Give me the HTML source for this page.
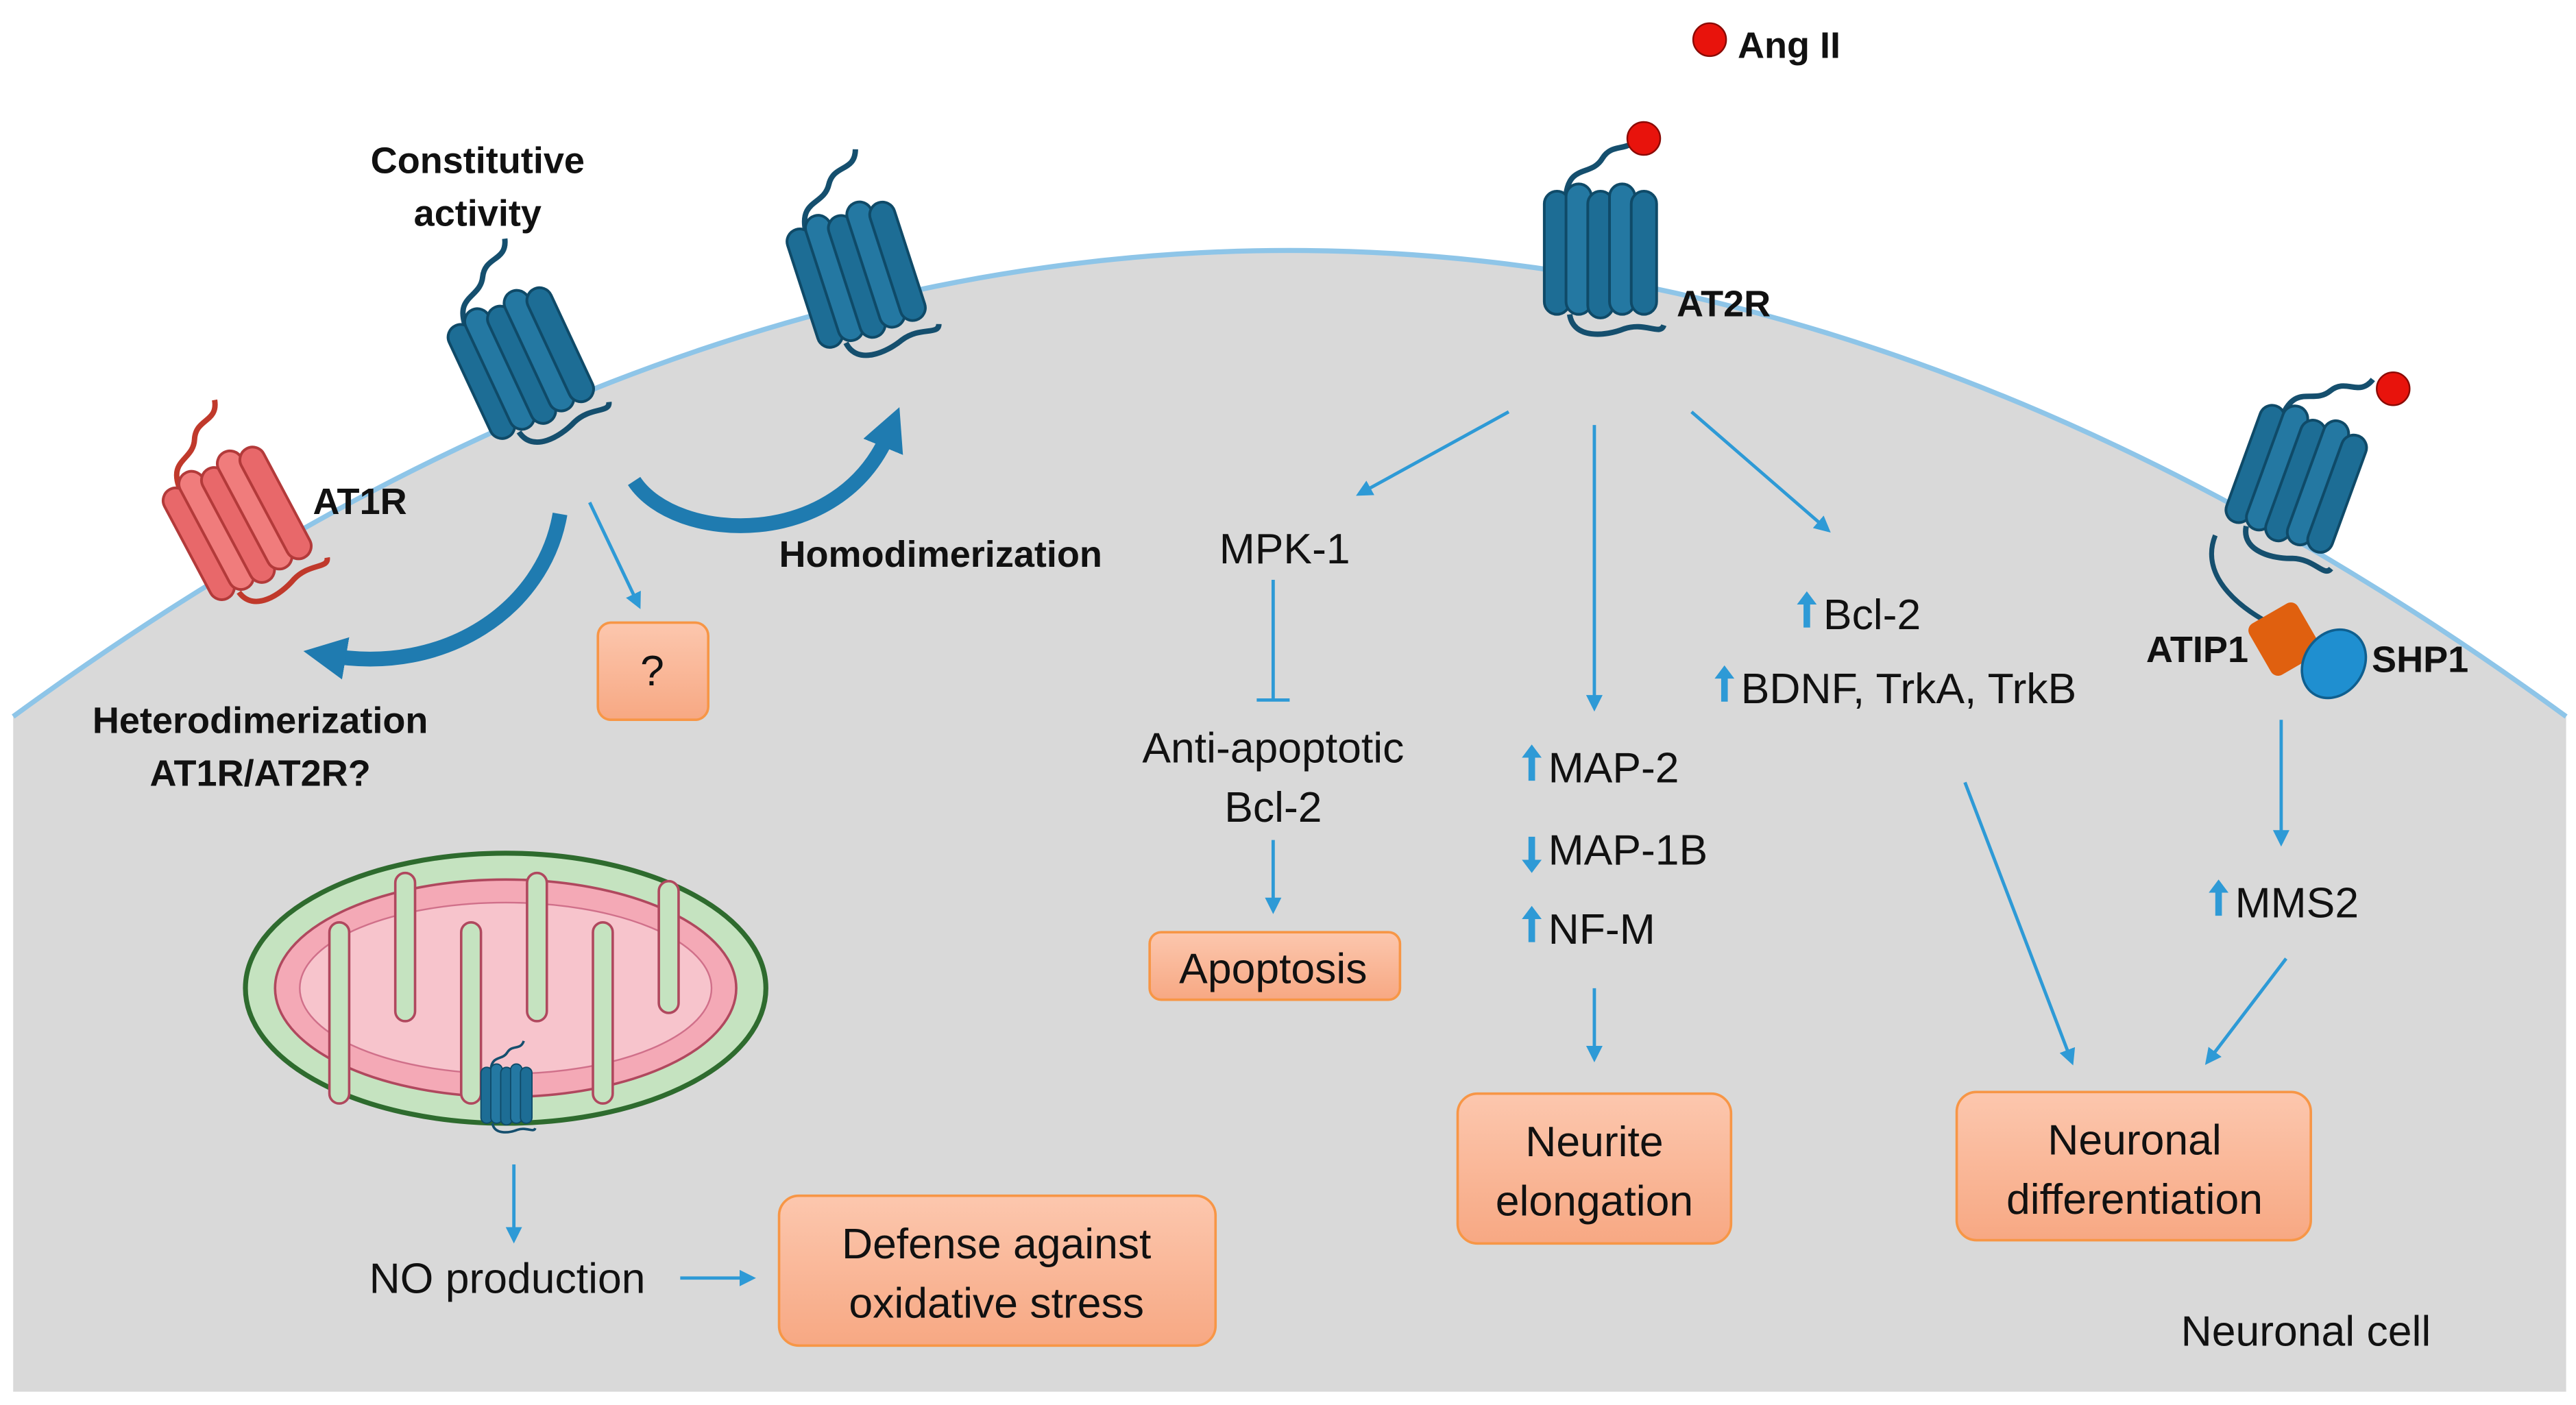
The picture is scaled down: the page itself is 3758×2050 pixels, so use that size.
<!DOCTYPE html>
<html><head><meta charset="utf-8"><style>
html,body{margin:0;padding:0;background:#fff}
svg{display:block}
text{font-family:"Liberation Sans",sans-serif;fill:#111}
.b{font-weight:bold;font-size:22.5px}
.r{font-size:26px}
</style></head><body>
<svg width="3758" height="2050" viewBox="0 0 1564 853" xmlns="http://www.w3.org/2000/svg">
<defs>
<marker id="ah" markerWidth="10" markerHeight="10" refX="8" refY="5" orient="auto" markerUnits="userSpaceOnUse"><path d="M0,0 L10,5 L0,10 Z" fill="#2e9ad6"/></marker>
<marker id="ahb" markerWidth="26" markerHeight="26" refX="10" refY="13" orient="auto" markerUnits="userSpaceOnUse"><path d="M0,0 L26,13 L0,26 Z" fill="#1f7bb0"/></marker>
<linearGradient id="bx" x1="0" y1="0" x2="0" y2="1"><stop offset="0" stop-color="#fcc7ae"/><stop offset="1" stop-color="#f7a883"/></linearGradient>
<g id="rec">
 <path d="M-22,-38 C-20,-55 -8,-48 -2,-58 C4,-68 14,-60 18,-72" fill="none" stroke="#154f6e" stroke-width="3"/>
 <rect x="-34" y="-40" width="14" height="68" rx="7" fill="#1d6d95" stroke="#0f4a68" stroke-width="1.5"/>
 <rect x="-22" y="-44" width="14" height="72" rx="7" fill="#2478a2" stroke="#0f4a68" stroke-width="1.5"/>
 <rect x="-10" y="-40" width="14" height="70" rx="7" fill="#1d6d95" stroke="#0f4a68" stroke-width="1.5"/>
 <rect x="2" y="-44" width="14" height="72" rx="7" fill="#2478a2" stroke="#0f4a68" stroke-width="1.5"/>
 <rect x="14" y="-40" width="14" height="68" rx="7" fill="#1d6d95" stroke="#0f4a68" stroke-width="1.5"/>
 <path d="M-20,28 C-18,42 0,40 10,36 C22,32 30,40 32,34" fill="none" stroke="#154f6e" stroke-width="3"/>
</g>
<g id="rec1">
 <path d="M-22,-38 C-20,-55 -8,-48 -2,-58 C4,-68 14,-60 18,-72" fill="none" stroke="#c0392b" stroke-width="3"/>
 <rect x="-34" y="-40" width="14" height="68" rx="7" fill="#e8686a" stroke="#b33a3a" stroke-width="1.5"/>
 <rect x="-22" y="-44" width="14" height="72" rx="7" fill="#f07c7c" stroke="#b33a3a" stroke-width="1.5"/>
 <rect x="-10" y="-40" width="14" height="70" rx="7" fill="#e8686a" stroke="#b33a3a" stroke-width="1.5"/>
 <rect x="2" y="-44" width="14" height="72" rx="7" fill="#f07c7c" stroke="#b33a3a" stroke-width="1.5"/>
 <rect x="14" y="-40" width="14" height="68" rx="7" fill="#e8686a" stroke="#b33a3a" stroke-width="1.5"/>
 <path d="M-20,28 C-18,42 0,40 10,36 C22,32 30,40 32,34" fill="none" stroke="#c0392b" stroke-width="3"/>
</g>
</defs>
<rect width="1564" height="853" fill="#fff"/>
<path d="M8,435 Q783,-131 1558,435 L1558,845 L8,845 Z" fill="#d9d9d9"/>
<path d="M8,435 Q783,-131 1558,435" fill="none" stroke="#8ec5e8" stroke-width="3"/>

<use href="#rec1" transform="translate(150,322) rotate(-28) scale(1.1)"/>
<use href="#rec" transform="translate(322,225) rotate(-25) scale(1.1)"/>
<use href="#rec" transform="translate(525,172) rotate(-18) scale(1.1)"/>
<use href="#rec" transform="translate(975,160) scale(1.1)"/>
<circle cx="998" cy="84" r="10" fill="#e8130c" stroke="#8a0a05" stroke-width="1"/>
<use href="#rec" transform="translate(1395,298) rotate(20) scale(1.1)"/>
<circle cx="1453" cy="236" r="10" fill="#e8130c" stroke="#8a0a05" stroke-width="1"/>
<path d="M1345,325 C1335,350 1360,372 1392,385" fill="none" stroke="#154f6e" stroke-width="3"/>
<rect x="1370" y="370" width="34" height="36" rx="5" fill="#e0600f" transform="rotate(-30 1387 388)"/>
<ellipse cx="1417" cy="403" rx="18" ry="22" fill="#1f8fd0" stroke="#0f5f8f" stroke-width="1.5" transform="rotate(35 1417 403)"/>

<circle cx="1038" cy="24" r="10" fill="#e8130c" stroke="#8a0a05"/>
<text x="1055" y="35" class="b">Ang II</text>

<path d="M340,312 C330,370 270,410 200,398" fill="none" stroke="#1f7bb0" stroke-width="9" marker-end="url(#ahb)"/>
<path d="M385,292 C410,330 510,335 540,262" fill="none" stroke="#1f7bb0" stroke-width="9" marker-end="url(#ahb)"/>

<text x="290" y="105" class="b" text-anchor="middle">Constitutive</text>
<text x="290" y="137" class="b" text-anchor="middle">activity</text>
<text x="190" y="312" class="b">AT1R</text>
<text x="473" y="344" class="b">Homodimerization</text>
<text x="158" y="445" class="b" text-anchor="middle">Heterodimerization</text>
<text x="158" y="477" class="b" text-anchor="middle">AT1R/AT2R?</text>
<text x="1018" y="192" class="b">AT2R</text>
<text x="1303" y="402" class="b">ATIP1</text>
<text x="1440" y="408" class="b">SHP1</text>

<g stroke="#2e9ad6" stroke-width="2" fill="none">
<line x1="358" y1="305" x2="388" y2="368" marker-end="url(#ah)"/>
<line x1="916" y1="250" x2="825" y2="300" marker-end="url(#ah)"/>
<line x1="968" y1="258" x2="968" y2="430" marker-end="url(#ah)"/>
<line x1="1027" y1="250" x2="1110" y2="322" marker-end="url(#ah)"/>
<line x1="773" y1="352" x2="773" y2="425"/>
<line x1="763" y1="425" x2="783" y2="425"/>
<line x1="773" y1="510" x2="773" y2="553" marker-end="url(#ah)"/>
<line x1="968" y1="600" x2="968" y2="643" marker-end="url(#ah)"/>
<line x1="1193" y1="475" x2="1258" y2="645" marker-end="url(#ah)"/>
<line x1="1385" y1="437" x2="1385" y2="512" marker-end="url(#ah)"/>
<line x1="1388" y1="582" x2="1340" y2="645" marker-end="url(#ah)"/>
<line x1="312" y1="707" x2="312" y2="753" marker-end="url(#ah)"/>
<line x1="413" y1="776" x2="457" y2="776" marker-end="url(#ah)"/>
</g>

<g fill="url(#bx)" stroke="#f79646" stroke-width="1.5">
<rect x="363" y="378" width="67" height="59" rx="8"/>
<rect x="698" y="566" width="152" height="41" rx="7"/>
<rect x="885" y="664" width="166" height="91" rx="12"/>
<rect x="1188" y="663" width="215" height="90" rx="12"/>
<rect x="473" y="726" width="265" height="91" rx="12"/>
</g>
<text x="396" y="416" class="r" text-anchor="middle">?</text>
<text x="773" y="597" class="r" text-anchor="middle">Apoptosis</text>
<text x="968" y="702" class="r" text-anchor="middle">Neurite</text>
<text x="968" y="738" class="r" text-anchor="middle">elongation</text>
<text x="1296" y="701" class="r" text-anchor="middle">Neuronal</text>
<text x="1296" y="737" class="r" text-anchor="middle">differentiation</text>
<text x="605" y="764" class="r" text-anchor="middle">Defense against</text>
<text x="605" y="800" class="r" text-anchor="middle">oxidative stress</text>

<text x="780" y="342" class="r" text-anchor="middle">MPK-1</text>
<text x="773" y="463" class="r" text-anchor="middle">Anti-apoptotic</text>
<text x="773" y="499" class="r" text-anchor="middle">Bcl-2</text>
<text x="940" y="475" class="r">MAP-2</text>
<text x="940" y="525" class="r">MAP-1B</text>
<text x="940" y="573" class="r">NF-M</text>
<text x="1107" y="382" class="r">Bcl-2</text>
<text x="1057" y="427" class="r">BDNF, TrkA, TrkB</text>
<text x="1357" y="557" class="r">MMS2</text>
<text x="308" y="785" class="r" text-anchor="middle">NO production</text>
<text x="1400" y="817" class="r" text-anchor="middle">Neuronal cell</text>
<g fill="#2e9ad6">
<path d="M928,474 v-14 h-4 l6,-8 l6,8 h-4 v14z"/>
<path d="M928,508 v14 h-4 l6,8 l6,-8 h-4 v-14z"/>
<path d="M928,572 v-14 h-4 l6,-8 l6,8 h-4 v14z"/>
<path d="M1095,381 v-14 h-4 l6,-8 l6,8 h-4 v14z"/>
<path d="M1045,426 v-14 h-4 l6,-8 l6,8 h-4 v14z"/>
<path d="M1345,556 v-14 h-4 l6,-8 l6,8 h-4 v14z"/>
</g>

<ellipse cx="307" cy="600" rx="158" ry="82" fill="#c5e3c0" stroke="#2e6b2e" stroke-width="3"/>
<ellipse cx="307" cy="600" rx="140" ry="66" fill="#f4a9b6" stroke="#b0485e" stroke-width="1.5"/>
<g fill="#f7c4cc" stroke="#d0708a" stroke-width="1">
<ellipse cx="307" cy="600" rx="125" ry="52"/>
</g>
<g fill="#c5e3c0" stroke="#b0485e" stroke-width="1.5">
<rect x="200" y="560" width="12" height="110" rx="6"/>
<rect x="240" y="530" width="12" height="90" rx="6"/>
<rect x="280" y="560" width="12" height="110" rx="6"/>
<rect x="320" y="530" width="12" height="90" rx="6"/>
<rect x="360" y="560" width="12" height="110" rx="6"/>
<rect x="400" y="535" width="12" height="80" rx="6"/>
</g>
<use href="#rec" transform="translate(309,668) scale(0.5)"/>
</svg>
</body></html>
